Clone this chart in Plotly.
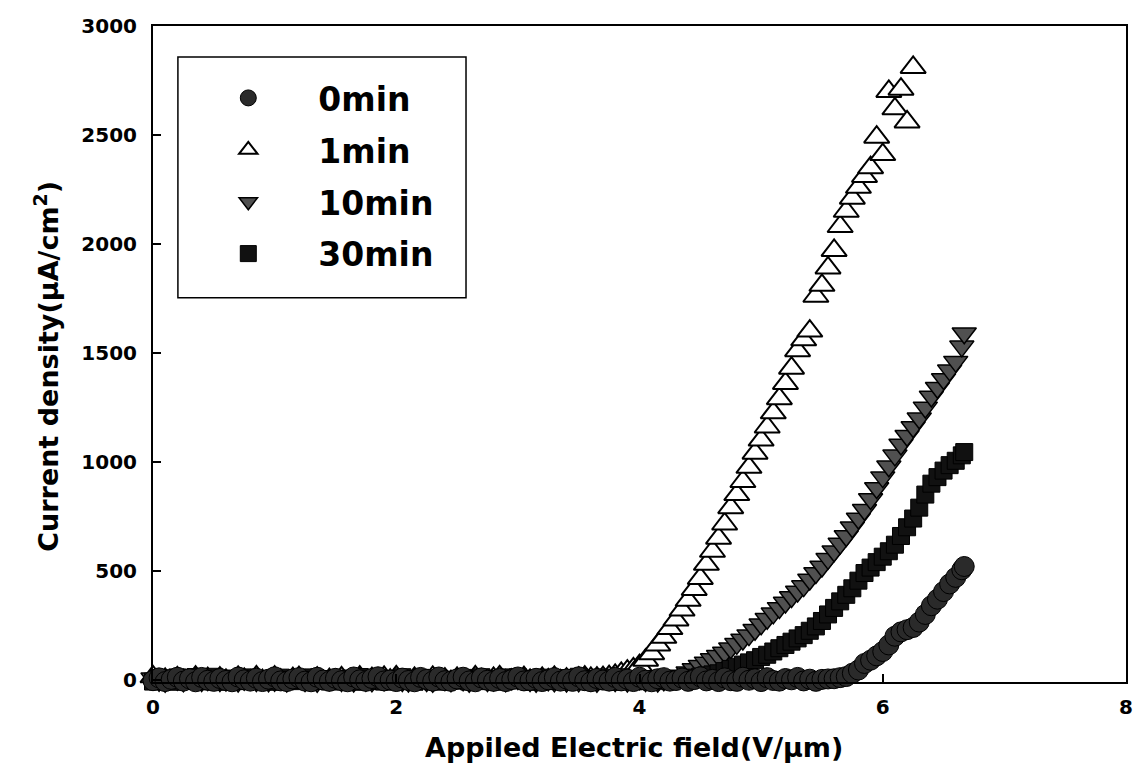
import plotly.graph_objects as go

# Applied field sweep (V/um), shared by all four samples
field = [
    0.0, 0.05, 0.1, 0.15, 0.2, 0.25, 0.3, 0.35, 0.4, 0.45,
    0.5, 0.55, 0.6, 0.65, 0.7, 0.75, 0.8, 0.85, 0.9, 0.95,
    1.0, 1.05, 1.1, 1.15, 1.2, 1.25, 1.3, 1.35, 1.4, 1.45,
    1.5, 1.55, 1.6, 1.65, 1.7, 1.75, 1.8, 1.85, 1.9, 1.95,
    2.0, 2.05, 2.1, 2.15, 2.2, 2.25, 2.3, 2.35, 2.4, 2.45,
    2.5, 2.55, 2.6, 2.65, 2.7, 2.75, 2.8, 2.85, 2.9, 2.95,
    3.0, 3.05, 3.1, 3.15, 3.2, 3.25, 3.3, 3.35, 3.4, 3.45,
    3.5, 3.55, 3.6, 3.65, 3.7, 3.75, 3.8, 3.85, 3.9, 3.95,
    4.0, 4.05, 4.1, 4.15, 4.2, 4.25, 4.3, 4.35, 4.4, 4.45,
    4.5, 4.55, 4.6, 4.65, 4.7, 4.75, 4.8, 4.85, 4.9, 4.95,
    5.0, 5.05, 5.1, 5.15, 5.2, 5.25, 5.3, 5.35, 5.4, 5.45,
    5.5, 5.55, 5.6, 5.65, 5.7, 5.75, 5.8, 5.85, 5.9, 5.95,
    6.0, 6.05, 6.1, 6.15, 6.2, 6.25, 6.3, 6.35, 6.4, 6.45,
    6.5, 6.55, 6.6, 6.65, 6.67,
]

# Current density (uA/cm^2) for each treatment time
cur_0min = [
    -4, 9, -8, 2, 12, -6, 5, -9, 11, -2,
    -7, 6, -3, -9, 13, 0, -6, 7, -8, 3,
    14, -5, -8, 4, 10, -6, -9, 12, -1, -7,
    7, -4, -9, 13, 0, -7, 6, 14, -5, -1,
    -8, 8, -3, -9, 11, 2, -6, 13, -4, -7,
    4, 12, -5, -9, 9, -2, -7, 6, -8, 1,
    13, -5, -3, 7, -8, 0, 10, -6, 4, -7,
    14, -4, -9, 6, -1, -6, 11, -5, 3, -8,
    12, -2, -9, 5, 10, -6, -3, 8, -7, 1,
    14, -5, 2, -8, 9, -4, -7, 12, -2, 5,
    -8, 10, -3, -6, 6, 0, 11, -5, 3, -7,
    2, 4, 5, 10, 15, 30, 45, 75, 90, 110,
    130, 160, 200, 220, 230, 240, 265, 300, 340, 370,
    405, 440, 470, 505, 520,
]

cur_1min = [
    14, -5, 2, -8, 9, -4, -7, 12, -2, 5,
    -8, 8, -3, -9, 11, 2, -6, 13, -4, -7,
    12, -2, -9, 5, 10, -6, -3, 8, -7, 1,
    -4, 9, -8, 2, 12, -6, 5, -9, 11, -2,
    14, -4, -9, 6, -1, -6, 11, -5, 3, -8,
    7, -4, -9, 13, 0, -7, 6, 14, -5, -1,
    -8, 10, -3, -6, 6, 0, 11, -5, 3, -7,
    8, 12, 6, 8, 10, 15, 20, 30, 40, 50,
    65, 90, 120, 160, 195, 235, 275, 320, 365, 415,
    465, 530, 590, 650, 715, 790, 850, 910, 975, 1040,
    1100, 1160, 1225, 1290, 1360, 1430, 1510, 1560, 1600, 1760,
    1810, 1890, 1970, 2080, 2150, 2210, 2260, 2310, 2350, 2490,
    2410, 2700, 2620, 2710, 2560, 2810, None, None, None, None,
    None, None, None, None, None,
]

cur_10min = [
    7, -4, -9, 13, 0, -7, 6, 14, -5, -1,
    13, -5, -3, 7, -8, 0, 10, -6, 4, -7,
    -4, 9, -8, 2, 12, -6, 5, -9, 11, -2,
    14, -5, 2, -8, 9, -4, -7, 12, -2, 5,
    14, -5, -8, 4, 10, -6, -9, 12, -1, -7,
    12, -2, -9, 5, 10, -6, -3, 8, -7, 1,
    4, 12, -5, -9, 9, -2, -7, 6, -8, 1,
    -7, 6, -3, -9, 13, 0, -6, 7, -8, 3,
    3, -6, 6, -8, -2, 2, 10, 20, 35, 50,
    65, 80, 95, 110, 125, 145, 165, 185, 205, 230,
    255, 280, 305, 330, 355, 380, 405, 430, 460, 490,
    520, 555, 590, 625, 660, 700, 740, 780, 830, 880,
    930, 980, 1030, 1080, 1120, 1160, 1200, 1250, 1300, 1340,
    1380, 1420, 1460, 1530, 1590,
]

cur_30min = [
    -8, 8, -3, -9, 11, 2, -6, 13, -4, -7,
    14, -4, -9, 6, -1, -6, 11, -5, 3, -8,
    -8, 10, -3, -6, 6, 0, 11, -5, 3, -7,
    -7, 6, -3, -9, 13, 0, -6, 7, -8, 3,
    4, 12, -5, -9, 9, -2, -7, 6, -8, 1,
    -4, 9, -8, 2, 12, -6, 5, -9, 11, -2,
    12, -2, -9, 5, 10, -6, -3, 8, -7, 1,
    14, -5, -8, 4, 10, -6, -9, 12, -1, -7,
    -5, 4, -8, 0, 1, -6, 3, 0, 5, 10,
    15, 20, 25, 30, 40, 50, 60, 70, 80, 90,
    105, 115, 130, 145, 160, 175, 190, 205, 225, 245,
    270, 300, 330, 360, 390, 420, 455, 490, 515, 540,
    565, 590, 620, 660, 700, 740, 790, 850, 900, 930,
    960, 985, 1005, 1030, 1045,
]

x_ticks = [0, 2, 4, 6, 8]
y_ticks = [0, 500, 1000, 1500, 2000, 2500, 3000]
x_title = "Appiled Electric field(V/μm)"
y_title = "Current density(μA/cm<sup>2</sup>)"

FONT = "DejaVu Sans"

styles = {
    "0min": dict(symbol="circle", size=20, color="#2a2a2a", line=dict(color="#000000", width=1)),
    "1min": dict(symbol="triangle-up", size=22, color="#ffffff", line=dict(color="#000000", width=2)),
    "10min": dict(symbol="triangle-down", size=21, color="#505050", line=dict(color="#000000", width=1.5)),
    "30min": dict(symbol="square", size=17, color="#111111", line=dict(color="#000000", width=1)),
}
values = {"0min": cur_0min, "1min": cur_1min, "10min": cur_10min, "30min": cur_30min}

fig = go.Figure()
# open triangles go underneath so the baseline band stays dark
for rank, name in [(2, "1min"), (3, "10min"), (4, "30min"), (1, "0min")]:
    fig.add_trace(go.Scatter(
        x=field, y=values[name], name=name, mode="markers",
        marker=styles[name], cliponaxis=False, legendrank=rank,
        legendgroup=name,
    ))

axis_common = dict(
    showline=True, linecolor="black", linewidth=2, mirror=True,
    ticks="inside", ticklen=8, tickwidth=1.5, tickcolor="black",
    showgrid=False, zeroline=False,
    tickfont=dict(family=FONT, size=20, color="black", weight="bold"),
)

title_font = dict(family=FONT, size=27, color="black", weight="bold")

fig.update_layout(
    width=1145, height=772,
    margin=dict(l=153, r=16, t=26, b=90),
    paper_bgcolor="white", plot_bgcolor="white",
    font=dict(family=FONT, color="black"),
    xaxis=dict(range=[0, 8], tickvals=x_ticks, ticklabelstandoff=6, **axis_common),
    yaxis=dict(range=[-10, 3000], tickvals=y_ticks, ticklabelstandoff=10, **axis_common),
    legend=dict(
        x=0.026, y=0.933, xanchor="left", yanchor="top",
        bgcolor="rgba(0,0,0,0)", borderwidth=0,
        font=dict(family=FONT, size=33, color="black", weight="bold"),
        itemwidth=130, tracegroupgap=6, traceorder="grouped",
    ),
    showlegend=True,
    annotations=[
        dict(text=x_title, xref="paper", yref="paper", x=0.494, y=-0.1,
             xanchor="center", yanchor="middle", showarrow=False, font=title_font),
        dict(text=y_title, xref="paper", yref="paper", x=-0.109, y=0.482,
             xanchor="center", yanchor="middle", textangle=-90, showarrow=False,
             font=title_font),
    ],
    shapes=[
        # legend frame
        dict(type="rect", xref="paper", yref="paper",
             x0=0.0256, x1=0.3217, y0=0.5856, y1=0.9526,
             line=dict(color="black", width=1.5), fillcolor="rgba(0,0,0,0)",
             layer="above"),
    ],
)

fig.write_html("out.html")
